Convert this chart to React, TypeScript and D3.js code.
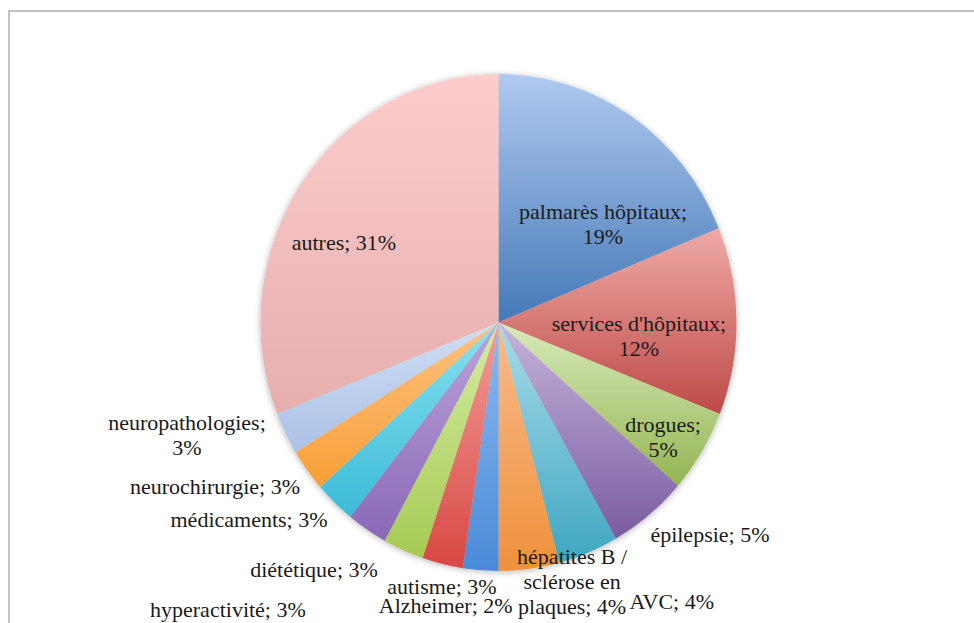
import React from "react";
import * as d3 from "d3";

// ---- data ----
const categories = [
  "palmarès hôpitaux",
  "services d'hôpitaux",
  "drogues",
  "épilepsie",
  "AVC",
  "hépatites B / sclérose en plaques",
  "Alzheimer",
  "autisme",
  "hyperactivité",
  "diététique",
  "médicaments",
  "neurochirurgie",
  "neuropathologies",
  "autres",
];
const values = [18.8, 12.2, 5.4, 5.4, 4.1, 4.1, 2.4, 2.77, 2.77, 2.77, 2.77, 2.77, 2.77, 30.98];

// ---- style / layout ----
const colorTop = [
  "#b0c9ef", "#efaaa6", "#d8e9bb", "#c4b4da", "#a9dce9", "#f8bb8c", "#8dbaef",
  "#f39d99", "#d5eca2", "#bca3dc", "#88e1f1", "#ffc283", "#cfdef4", "#fccdcc",
];
const colorBottom = [
  "#4579b8", "#bd4a47", "#94b552", "#7a5ca1", "#3ea6c1", "#ef913b", "#4a8bd8",
  "#d84844", "#a6ca53", "#8a68b6", "#3bbbd7", "#f89f36", "#abc1e5", "#e6afae",
];
const labelWrap = [18, 20, 8, 99, 99, 13, 99, 99, 99, 99, 99, 99, 17, 99];
const labelRadius = [0.59, 0.593, 0.833, 1.233, 1.34, 1.089, 1.162, 1.09, 1.622, 1.262, 1.316, 1.363, 1.386, 0.724];
const labelShift = [14.26, 5.96, 2.58, -6.86, -10.76, -9.12, 6.68, -1.03, 20.9, 4.33, 9.26, 7.39, 7.31, -8.0];

const W = 974;
const H = 623;
const cx = 498.5;
const cy = 322.5;
const rx = 238;
const ry = 248.5;
const fontSize = 22;
const lineH = 25;

function wrap(text: string, max: number): string[] {
  const words = text.split(" ");
  const lines: string[] = [];
  let cur = "";
  for (const w of words) {
    const t = cur ? cur + " " + w : w;
    if (t.length > max && cur) {
      lines.push(cur);
      cur = w;
    } else cur = t;
  }
  if (cur) lines.push(cur);
  return lines;
}

export default function App() {
  const pie = d3.pie<number>().sort(null).value((d) => d)(values);
  const arc = d3.arc<d3.PieArcDatum<number>>().innerRadius(0).outerRadius(rx);
  const sy = ry / rx;

  return (
    <svg
      width={W}
      height={H}
      style={{ position: "absolute", left: 0, top: 0, background: "#fff" }}
      fontFamily="'Liberation Serif', 'Times New Roman', serif"
    >
      <defs>
        {values.map((_, i) => (
          <linearGradient key={i} id={`g${i}`} x1="0" y1="0" x2="0" y2="1">
            <stop offset="0" stopColor={colorTop[i]} />
            <stop offset="1" stopColor={colorBottom[i]} />
          </linearGradient>
        ))}
        <filter id="sh" x="-10%" y="-10%" width="120%" height="120%">
          <feDropShadow dx="0" dy="1" stdDeviation="3" floodColor="#000" floodOpacity="0.3" />
        </filter>
      </defs>
      <rect x={0} y={0} width={W} height={H} fill="#fff" />
      <path d={`M9,${H + 5} V11 H${W + 5}`} fill="none" stroke="#c3c3c3" strokeWidth={2} />
      <g transform={`translate(${cx},${cy}) scale(1,${sy})`} filter="url(#sh)">
        {pie.map((p, i) => (
          <path key={i} d={arc(p) as string} fill={`url(#g${i})`} />
        ))}
      </g>
      <g fontSize={fontSize} fill="#1a1a1a" textAnchor="middle">
        {pie.map((p, i) => {
          const mid = (p.startAngle + p.endAngle) / 2 + (labelShift[i] * Math.PI) / 180;
          const x = cx + Math.sin(mid) * rx * labelRadius[i];
          const y = cy - Math.cos(mid) * ry * labelRadius[i];
          const lines = wrap(`${categories[i]}; ${Math.round(values[i])}%`, labelWrap[i]);
          const y0 = y - ((lines.length - 1) * lineH) / 2 + 7;
          return (
            <text key={i} x={x} y={y0}>
              {lines.map((l, j) => (
                <tspan key={j} x={x} y={y0 + j * lineH}>
                  {l}
                </tspan>
              ))}
            </text>
          );
        })}
      </g>
    </svg>
  );
}
